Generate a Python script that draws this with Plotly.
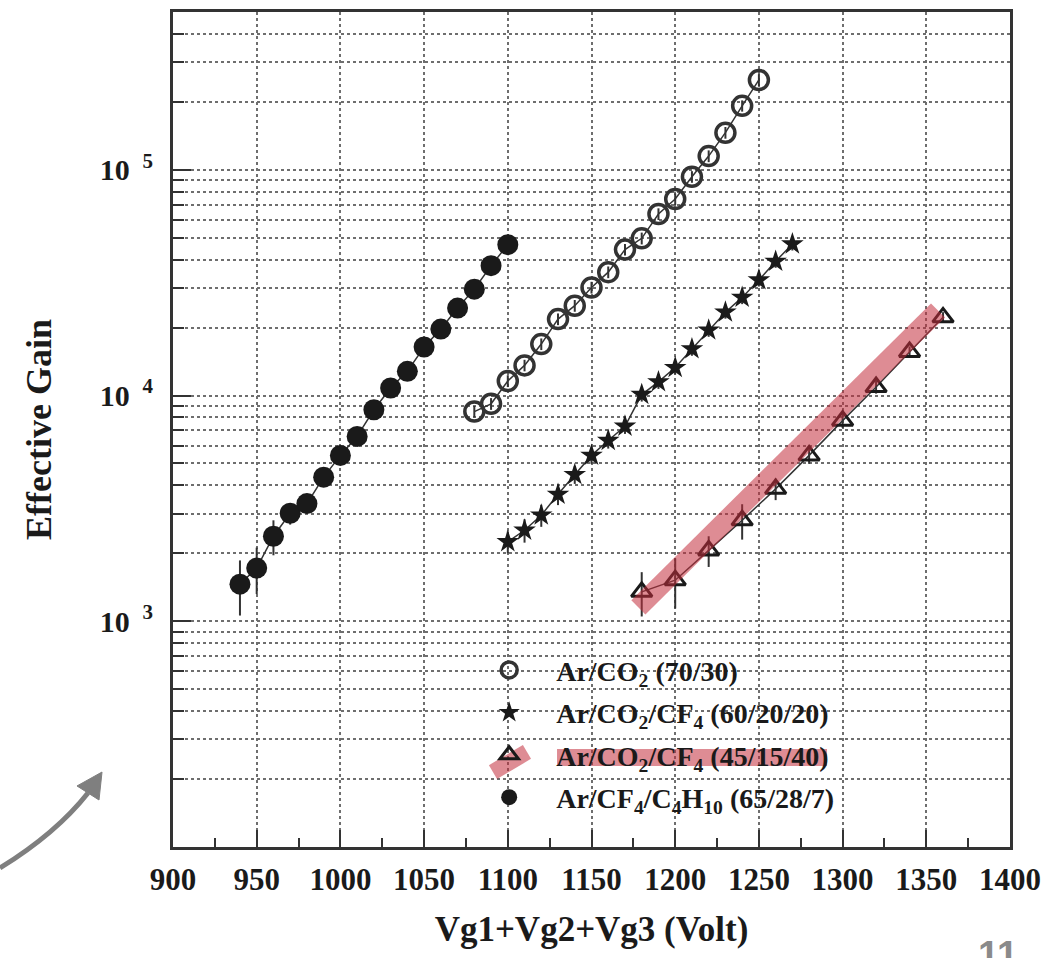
import plotly.graph_objects as go

# ---------------- data ----------------
co2_x = [1080, 1090, 1100, 1110, 1120, 1130, 1140, 1150, 1160, 1170,
         1180, 1190, 1200, 1210, 1220, 1230, 1240, 1250]
co2_y = [8490, 9190, 11600, 13600, 16900, 21800, 25000, 30100, 35200, 44300,
         49700, 63700, 74200, 93100, 115000, 146000, 192000, 250000]
co2_err = [500, 550, 700, 800, 1000, 1300, 1500, 1800, 2100, 2600,
           3000, 3800, 4400, 5500, 6900, 8700, 11000, 15000]

cf4a_x = [1100, 1110, 1120, 1130, 1140, 1150, 1160, 1170, 1180, 1190,
          1200, 1210, 1220, 1230, 1240, 1250, 1260, 1270]
cf4a_y = [2250, 2530, 2950, 3650, 4460, 5430, 6320, 7310, 10100, 11500,
          13300, 16100, 19500, 23400, 27200, 32500, 39300, 46900]
cf4a_err = [250, 300, 330, 380, 400, 450, 500, 550, 700, 800,
            900, 1100, 1300, 1500, 1800, 2100, 2500, 3000]

cf4b_x = [1180, 1200, 1220, 1240, 1260, 1280, 1300, 1320, 1340, 1360]
cf4b_y = [1350, 1520, 2060, 2800, 3860, 5430, 7740, 10900, 15600, 22200]
cf4b_err = [300, 380, 320, 500, 420, 450, 550, 700, 900, 1200]

iso_x = [940, 950, 960, 970, 980, 990, 1000, 1010, 1020, 1030,
         1040, 1050, 1060, 1070, 1080, 1090, 1100]
iso_y = [1460, 1720, 2380, 3010, 3320, 4350, 5430, 6590, 8650, 10800,
         12800, 16400, 19700, 24400, 29600, 37600, 46600]
iso_err = [400, 400, 420, 330, 300, 300, 330, 400, 450, 550,
           650, 800, 950, 1150, 1400, 1700, 2000]

series_names = [
    "Ar/CO<sub>2</sub> (70/30)",
    "Ar/CO<sub>2</sub>/CF<sub>4</sub> (60/20/20)",
    "Ar/CO<sub>2</sub>/CF<sub>4</sub> (45/15/40)",
    "Ar/CF<sub>4</sub>/C<sub>4</sub>H<sub>10</sub> (65/28/7)",
]

x_ticks = [900, 950, 1000, 1050, 1100, 1150, 1200, 1250, 1300, 1350, 1400]
y_ticks = [1e3, 1e4, 1e5]
y_ticktext = ["10 <sup> 3</sup>", "10 <sup> 4</sup>", "10 <sup> 5</sup>"]

# ---------------- styling ----------------
SERIF = "Liberation Serif"
INK = "#1a1a1a"
GRID = "#6e6e6e"

fig = go.Figure()

def err(vals):
    return dict(type="data", array=vals, visible=True, color="#333333",
                thickness=2, width=0)

# thin connecting lines (no legend)
for xs, ys in [(co2_x, co2_y), (cf4a_x, cf4a_y), (cf4b_x, cf4b_y), (iso_x, iso_y)]:
    fig.add_trace(go.Scatter(x=xs, y=ys, mode="lines", showlegend=False,
                             hoverinfo="skip",
                             line=dict(color="#333333", width=1.5)))

fig.add_trace(go.Scatter(
    x=co2_x, y=co2_y, mode="markers", name=series_names[0], error_y=err(co2_err),
    legendgroup="a",
    marker=dict(symbol="circle-open", size=19, color="#333333",
                line=dict(width=3.5, color="#333333"))))
fig.add_trace(go.Scatter(
    x=cf4a_x, y=cf4a_y, mode="markers", name=series_names[1], error_y=err(cf4a_err),
    legendgroup="b",
    marker=dict(symbol="star", size=17, color=INK, line=dict(width=0))))
fig.add_trace(go.Scatter(
    x=cf4b_x, y=cf4b_y, mode="markers", name=series_names[2], error_y=err(cf4b_err),
    legendgroup="c",
    marker=dict(symbol="triangle-up-open", size=18, color=INK,
                line=dict(width=3, color=INK))))
fig.add_trace(go.Scatter(
    x=iso_x, y=iso_y, mode="markers", name=series_names[3], error_y=err(iso_err),
    legendgroup="d",
    marker=dict(symbol="circle", size=21, color=INK, line=dict(width=0))))

minor_y = [m * 10 ** e for e in range(2, 6) for m in range(2, 10) if m * 10 ** e <= 5e5]

fig.update_xaxes(
    range=[900, 1400], tickmode="array", tickvals=x_ticks, automargin=False,
    ticks="inside", ticklen=17, tickwidth=2, tickcolor="#333333",
    showline=True, linewidth=3, linecolor="#333333", mirror=True,
    showgrid=True, gridcolor=GRID, griddash="dot", gridwidth=1.8,
    zeroline=False, ticklabelstandoff=3,
    tickfont=dict(family=SERIF, size=31, color=INK, weight="bold"),
    minor=dict(dtick=25, tick0=900, ticks="inside", ticklen=9, tickwidth=2,
               tickcolor="#333333", showgrid=False),
    title=dict(text="Vg1+Vg2+Vg3 (Volt)", standoff=21,
               font=dict(family=SERIF, size=35, color=INK, weight="bold")),
)
fig.update_yaxes(
    type="log", range=[2, 5.699], tickmode="array", tickvals=y_ticks,
    ticktext=y_ticktext, automargin=False,
    ticks="inside", ticklen=18, tickwidth=2, tickcolor="#333333",
    showline=True, linewidth=3, linecolor="#333333", mirror=True,
    showgrid=True, gridcolor=GRID, griddash="dot", gridwidth=1.8,
    zeroline=False, ticklabelstandoff=11,
    tickfont=dict(family=SERIF, size=30, color=INK, weight="bold"),
    minor=dict(tickmode="array", tickvals=minor_y, ticks="inside", ticklen=11,
               tickwidth=2, tickcolor="#333333", showgrid=True,
               gridcolor=GRID, griddash="dot", gridwidth=1.8),
    title=dict(text="Effective Gain", standoff=38,
               font=dict(family=SERIF, size=36, color=INK, weight="bold")),
)

RED = "rgba(195,45,60,0.55)"
# highlight over the 45/15/40 series
fig.add_shape(type="line", xref="x", yref="y", x0=1178, y0=1153, x1=1357, y1=23800,
              line=dict(color=RED, width=20), layer="above")
# highlight in the legend
fig.add_shape(type="line", xref="paper", yref="paper", x0=0.3823, y0=0.0898,
              x1=0.4229, y1=0.1138, line=dict(color=RED, width=16), layer="above")
fig.add_shape(type="rect", xref="paper", yref="paper", x0=0.4588, y0=0.0970,
              x1=0.7814, y1=0.1174, line=dict(width=0), fillcolor=RED, layer="above")

# grey curved arrow in the lower-left margin
fig.add_shape(type="path", xref="paper", yref="paper",
              path="M -0.2067 -0.0251 Q -0.1398 0.0162 -0.1016 0.0647",
              line=dict(color="#7f7f7f", width=5))
fig.add_shape(type="path", xref="paper", yref="paper",
              path="M -0.0848 0.0898 L -0.1147 0.0731 L -0.0884 0.0563 Z",
              fillcolor="#7f7f7f", line=dict(color="#7f7f7f", width=1))

# slide number, cut at the bottom edge
fig.add_annotation(text="<b>11</b>", xref="paper", yref="paper", x=0.9857, y=-0.1018,
                   xanchor="center", yanchor="top", showarrow=False,
                   font=dict(family="Liberation Sans", size=38, color="#8a8a8a"))

fig.update_layout(
    width=1057, height=958,
    margin=dict(l=173, r=47, t=12, b=111),
    paper_bgcolor="white", plot_bgcolor="white",
    font=dict(family=SERIF, color=INK),
    legend=dict(x=0.3455, y=0.2416, xanchor="left", yanchor="top",
                bgcolor="rgba(0,0,0,0)", borderwidth=0, itemwidth=84,
                font=dict(family=SERIF, size=28, color=INK, weight="bold"),
                tracegroupgap=3),
)

fig.write_html("out.html",
               config={"displayModeBar": False},
               post_script="document.body.style.margin='0';"
                           "document.body.style.overflow='hidden';")
